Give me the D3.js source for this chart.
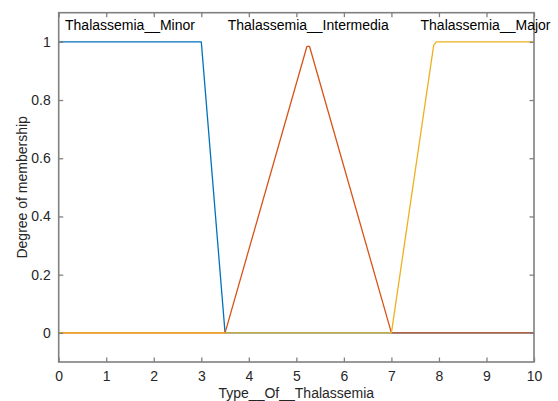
<!DOCTYPE html>
<html><head><meta charset="utf-8">
<script src="https://cdn.jsdelivr.net/npm/d3@7"></script>
<style>body{margin:0;background:#fff}svg{display:block}text{font-family:"Liberation Sans",Arial,sans-serif}</style>
</head><body><svg id="c" width="558" height="401"></svg>
<script>
const xTicks = [0,1,2,3,4,5,6,7,8,9,10];
const yTicks = [0,0.2,0.4,0.6,0.8,1];
const mfNames = ["Thalassemia__Minor","Thalassemia__Intermedia","Thalassemia__Major"];
const mfLabelX = [1.5, 5.25, 8.98];
const mfColors = ["#0072BD","#D95319","#EDB120"];
const minorX = [0, 3, 3.5, 10];
const minorY = [1, 1, 0, 0];
const interX = [0, 3.5, 5.222, 5.278, 7, 10];
const interY = [0, 0, 0.984, 0.984, 0, 0];
const majorX = [0, 7, 7.889, 7.944, 10];
const majorY = [0, 0, 0.988, 1, 1];
const xLabel = "Type__Of__Thalassemia";
const yLabel = "Degree of membership";

const svg = d3.select("#c");
const L=58.7, R=534, T=12.7, B=362;
const x = d3.scaleLinear().domain([0,10]).range([L,R]);
const y = d3.scaleLinear().domain([-0.1,1.1]).range([B,T]);
const axisCol = "#808080", txtCol = "#262626";

const series = [[minorX,minorY],[interX,interY],[majorX,majorY]];
const line = d3.line().x(d=>x(d[0])).y(d=>y(d[1]));
series.forEach((s,i)=>{
  const pts = s[0].map((v,j)=>[v,s[1][j]]);
  svg.append("path").attr("d",line(pts)).attr("fill","none")
    .attr("stroke",mfColors[i]).attr("stroke-width",1.3).attr("stroke-linejoin","round");
});

svg.append("rect").attr("x",L).attr("y",T).attr("width",R-L).attr("height",B-T)
  .attr("fill","none").attr("stroke",axisCol).attr("stroke-width",1.6);

const tl=4.5;
const gx = svg.append("g").attr("transform",`translate(0,${B})`)
  .call(d3.axisBottom(x).tickValues(xTicks).tickSize(-tl).tickPadding(9).tickFormat(d3.format("d")));
const gxt = svg.append("g").attr("transform",`translate(0,${T})`)
  .call(d3.axisTop(x).tickValues(xTicks).tickSize(-tl).tickFormat(""));
const gy = svg.append("g").attr("transform",`translate(${L},0)`)
  .call(d3.axisLeft(y).tickValues(yTicks).tickSize(-tl).tickPadding(8).tickFormat(d=>d===0||d===1?d3.format("d")(d):d3.format(".1f")(d)));
const gyr = svg.append("g").attr("transform",`translate(${R},0)`)
  .call(d3.axisRight(y).tickValues(yTicks).tickSize(-tl).tickFormat(""));
[gx,gxt,gy,gyr].forEach(g=>{
  g.select(".domain").remove();
  g.selectAll(".tick line").attr("stroke",axisCol).attr("stroke-width",1.3);
  g.selectAll("text").attr("fill",txtCol).style("font-size","14px").style("font-family",'"Liberation Sans",Arial,sans-serif');
});

mfNames.forEach((n,i)=>{
  svg.append("text").attr("x",x(mfLabelX[i])).attr("y",30).attr("text-anchor","middle")
    .attr("fill","#000").style("font-size","14px").text(n);
});
svg.append("text").attr("x",(L+R)/2).attr("y",398).attr("text-anchor","middle")
  .attr("fill",txtCol).style("font-size","14px").text(xLabel);
svg.append("text").attr("transform",`translate(27,${(T+B)/2}) rotate(-90)`).attr("text-anchor","middle")
  .attr("fill",txtCol).style("font-size","14px").text(yLabel);
</script></body></html>
